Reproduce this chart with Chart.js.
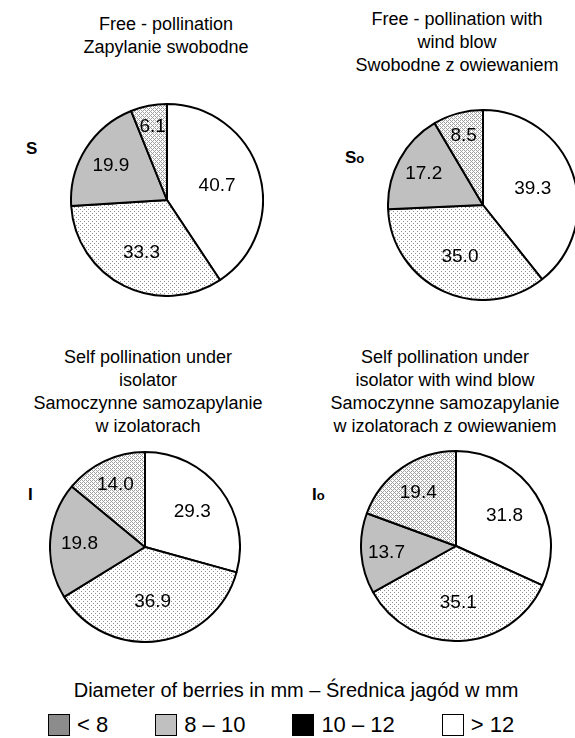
<!DOCTYPE html>
<html>
<head>
<meta charset="utf-8">
<script src="https://cdn.jsdelivr.net/npm/chart.js@4.4.1/dist/chart.umd.min.js"></script>
<style>
html,body{margin:0;padding:0;background:#fff;overflow:hidden;width:575px;height:738px;}
body{position:relative;font-family:"Liberation Sans",Arial,Helvetica,sans-serif;color:#000;}
.title{position:absolute;text-align:center;font-size:18px;line-height:23px;white-space:nowrap;transform:translateX(-50%);}
.side{position:absolute;font-weight:bold;font-size:17px;line-height:20px;white-space:nowrap;}
.side span{font-size:13px;}
canvas{position:absolute;}
#legendTitle{position:absolute;top:679px;left:296px;transform:translateX(-50%);font-size:20px;line-height:22px;white-space:nowrap;}
#legendRow{position:absolute;top:714px;left:48px;display:flex;align-items:center;height:22px;font-size:22px;white-space:nowrap;}
.item{display:flex;align-items:center;margin-right:47px;}
.box{width:20px;height:20px;border:1px solid #000;margin-right:7px;}
</style>
</head>
<body>
<div id="legendTitle"></div>
<div id="legendRow"></div>
<script>
// ---- data ----
const sliceCategories = ['> 12', '8 – 10', '< 8', '10 – 12'];   // clockwise from the top
const legendCategories = ['< 8', '8 – 10', '10 – 12', '> 12'];
const valuesS  = [40.7, 33.3, 19.9, 6.1];
const valuesSo = [39.3, 35.0, 17.2, 8.5];
const valuesI  = [29.3, 36.9, 19.8, 14.0];
const valuesIo = [31.8, 35.1, 13.7, 19.4];
const titleS  = ['Free - pollination', 'Zapylanie swobodne'];
const titleSo = ['Free - pollination with', 'wind blow', 'Swobodne z owiewaniem'];
const titleI  = ['Self pollination under', 'isolator', 'Samoczynne samozapylanie', 'w izolatorach'];
const titleIo = ['Self pollination under', 'isolator with wind blow', 'Samoczynne samozapylanie', 'w izolatorach z owiewaniem'];
const legendTitle = 'Diameter of berries in mm – Średnica jagód w mm';

// ---- styles ----
function makePattern(kind){
  const c = document.createElement('canvas'); c.width = 4; c.height = 4;
  const g = c.getContext('2d');
  g.fillStyle = '#fff'; g.fillRect(0,0,4,4);
  g.fillStyle = kind === 'dots' ? '#8f8f8f' : '#a2a2a2';
  const pts = kind === 'dots' ? [[0,0],[2,2]] : [[0,0],[1,1],[2,2],[3,3],[1,3],[3,1]];
  pts.forEach(([x,y]) => g.fillRect(x,y,1,1));
  return g.createPattern(c,'repeat');
}
const sliceFill = {'> 12':'#ffffff', '8 – 10':makePattern('dots'), '< 8':'#c0c0c0', '10 – 12':makePattern('hatch')};
const legendFill = {'< 8':'#8c8c8c', '8 – 10':'#c0c0c0', '10 – 12':'#000000', '> 12':'#ffffff'};

const panels = [
  {values: valuesS,  title: titleS,  side: ['S',''],  cx:167, cy:200, r:96, tx:166, ty:13,  sx:26,  sy:139},
  {values: valuesSo, title: titleSo, side: ['S','o'], cx:483, cy:205, r:95, tx:457, ty:8,   sx:345, sy:148},
  {values: valuesI,  title: titleI,  side: ['I',''],  cx:145, cy:547, r:95, tx:148, ty:346, sx:28,  sy:485},
  {values: valuesIo, title: titleIo, side: ['I','o'], cx:456, cy:546, r:95, tx:445, ty:346, sx:312, sy:485}
];

const sliceLabels = {
  id: 'sliceLabels',
  afterDatasetsDraw(chart){
    const ctx = chart.ctx;
    const data = chart.data.datasets[0].data;
    const total = data.reduce((a,b)=>a+b,0);
    ctx.save();
    ctx.font = '19px "Liberation Sans", Arial, sans-serif';
    ctx.fillStyle = '#000';
    ctx.textAlign = 'center';
    ctx.textBaseline = 'middle';
    chart.getDatasetMeta(0).data.forEach((arc,i) => {
      const p = arc.getProps(['x','y','startAngle','endAngle','outerRadius'], true);
      const mid = (p.startAngle + p.endAngle)/2;
      const f = 0.83 - 0.7*data[i]/total;
      ctx.fillText(data[i].toFixed(1), p.x + Math.cos(mid)*p.outerRadius*f, p.y + Math.sin(mid)*p.outerRadius*f + 1);
    });
    ctx.restore();
  }
};

panels.forEach(p => {
  const t = document.createElement('div');
  t.className = 'title';
  t.style.left = p.tx + 'px'; t.style.top = p.ty + 'px';
  t.innerHTML = p.title.join('<br>');
  document.body.appendChild(t);

  const s = document.createElement('div');
  s.className = 'side';
  s.style.left = p.sx + 'px'; s.style.top = p.sy + 'px';
  s.textContent = p.side[0];
  if (p.side[1]) { const sub = document.createElement('span'); sub.textContent = p.side[1]; s.appendChild(sub); }
  document.body.appendChild(s);

  const size = 2*p.r + 2;
  const cv = document.createElement('canvas');
  cv.width = size; cv.height = size;
  cv.style.width = size + 'px'; cv.style.height = size + 'px';
  cv.style.left = (p.cx - size/2) + 'px'; cv.style.top = (p.cy - size/2) + 'px';
  document.body.appendChild(cv);

  new Chart(cv, {
    type: 'pie',
    data: {
      labels: sliceCategories,
      datasets: [{
        data: p.values,
        backgroundColor: sliceCategories.map(c => sliceFill[c]),
        borderColor: '#000',
        borderWidth: 2,
        hoverBorderWidth: 2,
        hoverOffset: 0,
        offset: 0
      }]
    },
    options: {
      responsive: false,
      animation: false,
      events: [],
      layout: {padding: 0},
      plugins: {legend: {display: false}, tooltip: {enabled: false}}
    },
    plugins: [sliceLabels]
  });
});

document.getElementById('legendTitle').textContent = legendTitle;
const row = document.getElementById('legendRow');
legendCategories.forEach(c => {
  const it = document.createElement('div'); it.className = 'item';
  const b = document.createElement('div'); b.className = 'box'; b.style.background = legendFill[c];
  const tx = document.createElement('span'); tx.textContent = c;
  it.appendChild(b); it.appendChild(tx); row.appendChild(it);
});
</script>
</body>
</html>
